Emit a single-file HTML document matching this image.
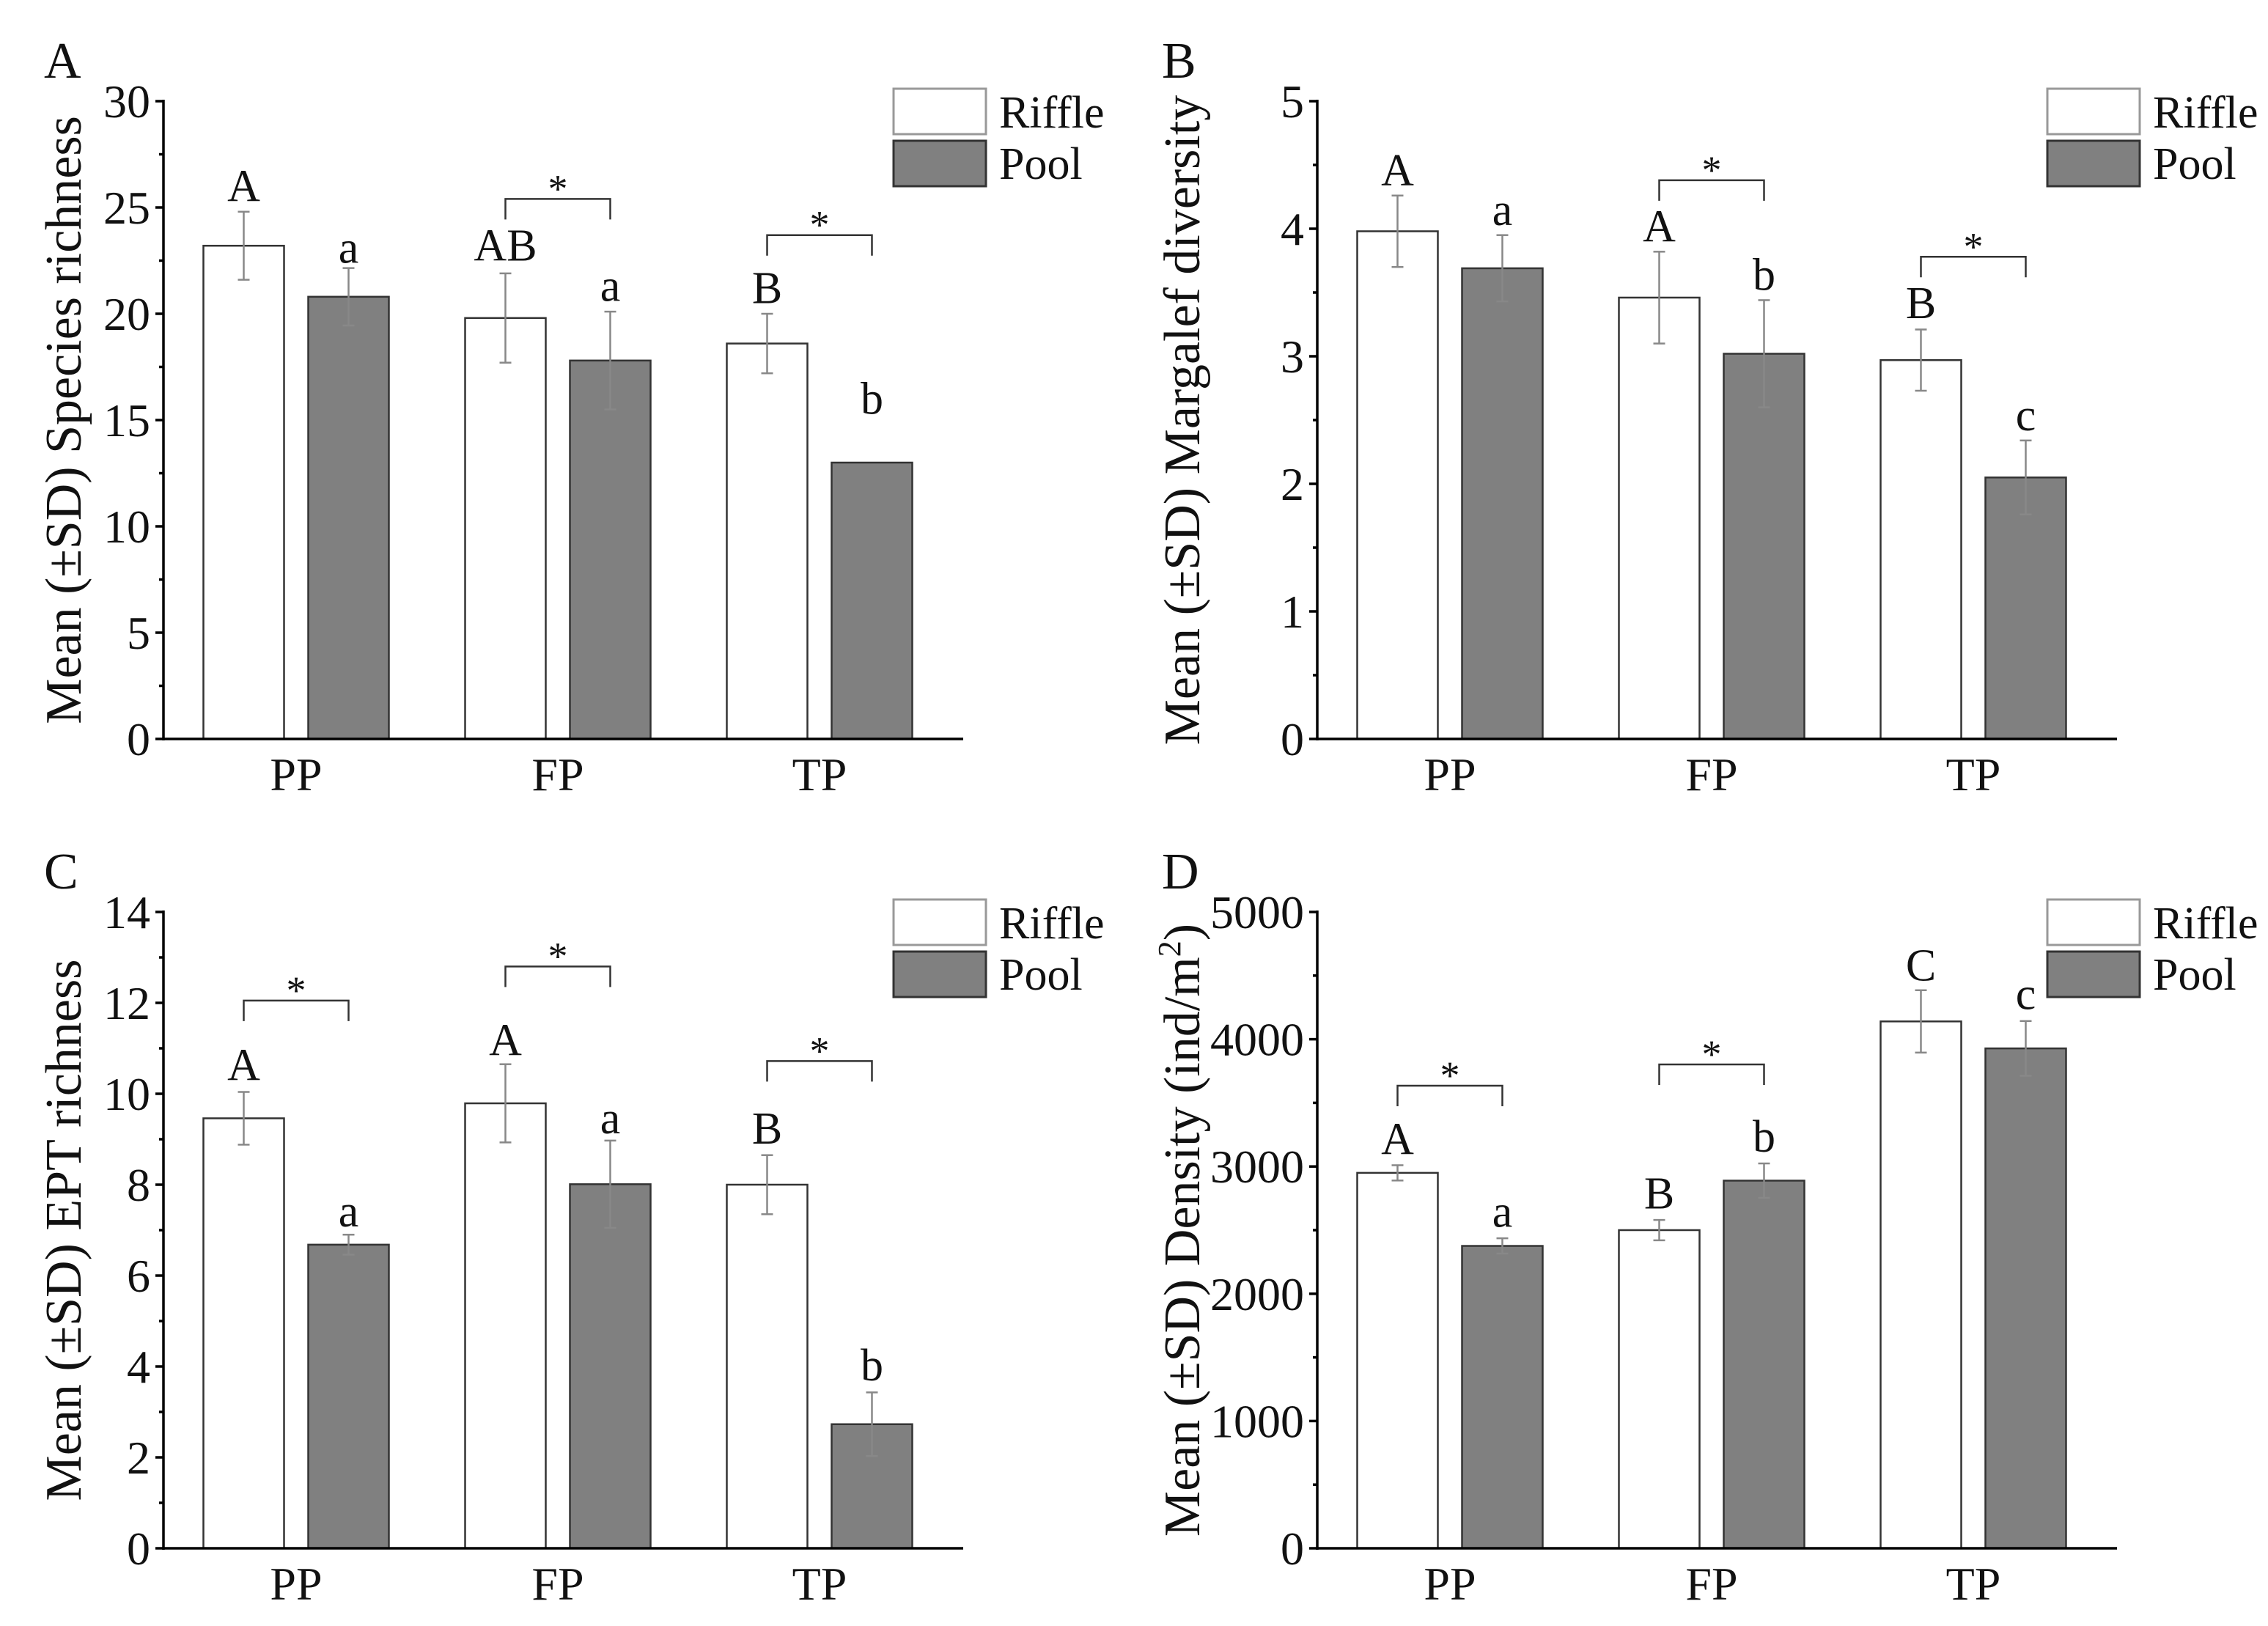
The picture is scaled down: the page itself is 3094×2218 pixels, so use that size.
<!DOCTYPE html>
<html><head><meta charset="utf-8">
<style>
html,body{margin:0;padding:0;background:#fff;}
svg{display:block;}
text{font-family:"Liberation Serif",serif;fill:#111;}
</style></head>
<body>
<svg id="fig" xmlns="http://www.w3.org/2000/svg" width="3094" height="2218" viewBox="0 0 3094 2218"></svg>
<script>
// ---- Data ----
const groups = ["PP", "FP", "TP"];
const seriesNames = ["Riffle", "Pool"];

const aRiffle = [23.2, 19.8, 18.6];
const aRiffleSD = [1.6, 2.1, 1.4];
const aPool = [20.8, 17.8, 13.0];
const aPoolSD = [1.35, 2.3, 0];
const aRiffleLetters = ["A", "AB", "B"];
const aPoolLetters = ["a", "a", "b"];
const aRiffleLetterVal = [25.3, 22.5, 20.5];
const aPoolLetterVal = [22.4, 20.6, 15.3];
const aBrackets = [null, 25.4, 23.7];
const aTicks = [0, 5, 10, 15, 20, 25, 30];

const bRiffle = [3.98, 3.46, 2.97];
const bRiffleSD = [0.28, 0.36, 0.24];
const bPool = [3.69, 3.02, 2.05];
const bPoolSD = [0.26, 0.42, 0.29];
const bRiffleLetters = ["A", "A", "B"];
const bPoolLetters = ["a", "b", "c"];
const bRiffleLetterVal = [4.34, 3.90, 3.30];
const bPoolLetterVal = [4.03, 3.52, 2.42];
const bBrackets = [null, 4.38, 3.78];
const bTicks = [0, 1, 2, 3, 4, 5];

const cRiffle = [9.46, 9.79, 8.0];
const cRiffleSD = [0.58, 0.86, 0.65];
const cPool = [6.68, 8.01, 2.73];
const cPoolSD = [0.22, 0.96, 0.7];
const cRiffleLetters = ["A", "A", "B"];
const cPoolLetters = ["a", "a", "b"];
const cRiffleLetterVal = [10.3, 10.85, 8.9];
const cPoolLetterVal = [7.08, 9.13, 3.69];
const cBrackets = [12.05, 12.8, 10.72];
const cTicks = [0, 2, 4, 6, 8, 10, 12, 14];

const dRiffle = [2950, 2500, 4140];
const dRiffleSD = [60, 80, 245];
const dPool = [2376, 2889, 3928];
const dPoolSD = [60, 135, 215];
const dRiffleLetters = ["A", "B", "C"];
const dPoolLetters = ["a", "b", "c"];
const dRiffleLetterVal = [3097, 2669, 4462];
const dPoolLetterVal = [2526, 3117, 4238];
const dBrackets = [3635, 3802, null];
const dTicks = [0, 1000, 2000, 3000, 4000, 5000];

// ---- Rendering ----
const NS = "http://www.w3.org/2000/svg";
const svg = document.getElementById("fig");
function mk(tag, attrs, parent) {
  const e = document.createElementNS(NS, tag);
  for (const k in attrs) e.setAttribute(k, attrs[k]);
  (parent || svg).appendChild(e);
  return e;
}
function txt(str, x, y, size, anchor, parent) {
  const t = mk("text", {x: x, y: y, "font-size": size, "text-anchor": anchor || "middle"}, parent);
  t.textContent = str;
  return t;
}

function panel(p) {
  const g = mk("g", {});
  
  
  const ax = p.axX, top = p.top, zero = p.zero, W = 1091;
  const yMax = p.ticks[p.ticks.length - 1];
  const Y = v => zero - (v / yMax) * (zero - top);
  const groupX = i => ax + 181 + i * 357;

  const pl = txt(p.letter, p.letterX, top - 32, 70, "start", g);
  
  

  const cy = (top + zero) / 2;
  const yt = mk("text", {x: 0, y: 0, "font-size": 70, "text-anchor": "middle",
    transform: "translate(" + p.titleX + "," + cy + ") rotate(-90)"}, g);
  
  
  if (p.sup) {
    yt.appendChild(document.createTextNode(p.title));
    const s = mk("tspan", {"font-size": 44, dy: -26}, yt);
    s.textContent = p.sup;
    const s2 = mk("tspan", {dy: 26}, yt);
    s2.textContent = ")";
  } else {
    yt.textContent = p.title;
  }

  [[p.riffle, p.riffleSD, -126.5, "#fff", "#333", p.riffleLetters, p.riffleLetterVal],
   [p.pool, p.poolSD, 16.5, "#808080", "#333", p.poolLetters, p.poolLetterVal]].forEach((s, si) => {
    s[0].forEach((v, i) => {
      const x = groupX(i) + s[2];
      const r = mk("rect", {x: x, y: Y(v), width: 110, height: zero - Y(v), fill: s[3], stroke: s[4], "stroke-width": 2.5}, g);
      
      
      const cx = x + 55, sd = s[1][i];
      if (sd > 0) {
        const eg = mk("g", {stroke: "#888", "stroke-width": 2.5}, g);
        
        
        mk("line", {x1: cx, x2: cx, y1: Y(v + sd), y2: Y(v - sd)}, eg);
        mk("line", {x1: cx - 8, x2: cx + 8, y1: Y(v + sd), y2: Y(v + sd)}, eg);
        mk("line", {x1: cx - 8, x2: cx + 8, y1: Y(v - sd), y2: Y(v - sd)}, eg);
      }
      const lt = txt(s[5][i], cx, Y(s[6][i]), 62, "middle", g);
      
      
    });
  });

  p.brackets.forEach((b, i) => {
    if (b === null) return;
    const x1 = groupX(i) - 71.5, x2 = groupX(i) + 71.5, yb = Y(b);
    const bg = mk("g", {}, g);
    
    
    mk("polyline", {points: x1 + "," + (yb + 28) + " " + x1 + "," + yb + " " + x2 + "," + yb + " " + x2 + "," + (yb + 28),
      fill: "none", stroke: "#333", "stroke-width": 2.5}, bg);
    txt("*", (x1 + x2) / 2, yb + 4, 54, "middle", bg);
  });

  const axes = mk("g", {stroke: "#000", "stroke-width": 3.5}, g);
  
  
  mk("line", {x1: ax, x2: ax, y1: top - 2, y2: zero + 2}, axes);
  mk("line", {x1: ax - 2, x2: ax + W, y1: zero, y2: zero}, axes);
  const step = p.ticks[1] - p.ticks[0];
  p.ticks.forEach((t, i) => {
    mk("line", {x1: ax - 11, x2: ax, y1: Y(t), y2: Y(t)}, axes);
    if (i < p.ticks.length - 1) mk("line", {x1: ax - 6, x2: ax, y1: Y(t + step / 2), y2: Y(t + step / 2)}, axes);
    const tl = txt(String(t), ax - 18, Y(t) + 22, 64, "end", g);
    
    
  });
  groups.forEach((c, i) => {
    const xl = txt(c, groupX(i), zero + 70, 64, "middle", g);
    
    
  });

  const lg = mk("g", {}, g);
  
  
  const lx = ax + 996;
  const e1 = mk("rect", {x: lx, y: top - 17, width: 126, height: 62, fill: "#fff", stroke: "#999", "stroke-width": 3}, lg);
  
  
  txt(seriesNames[0], lx + 144, top + 36, 62, "start", lg);
  const e2 = mk("rect", {x: lx, y: top + 54, width: 126, height: 62, fill: "#808080", stroke: "#333", "stroke-width": 3}, lg);
  
  
  txt(seriesNames[1], lx + 144, top + 106, 62, "start", lg);
}

panel({letter: "A", letterX: 60, axX: 223, top: 138, zero: 1008, titleX: 110,
  title: "Mean (±SD) Species richness", ticks: aTicks,
  riffle: aRiffle, riffleSD: aRiffleSD, pool: aPool, poolSD: aPoolSD,
  riffleLetters: aRiffleLetters, poolLetters: aPoolLetters,
  riffleLetterVal: aRiffleLetterVal, poolLetterVal: aPoolLetterVal, brackets: aBrackets});
panel({letter: "B", letterX: 1585, axX: 1797, top: 138, zero: 1008, titleX: 1636,
  title: "Mean (±SD) Margalef diversity", ticks: bTicks,
  riffle: bRiffle, riffleSD: bRiffleSD, pool: bPool, poolSD: bPoolSD,
  riffleLetters: bRiffleLetters, poolLetters: bPoolLetters,
  riffleLetterVal: bRiffleLetterVal, poolLetterVal: bPoolLetterVal, brackets: bBrackets});
panel({letter: "C", letterX: 60, axX: 223, top: 1244, zero: 2112, titleX: 110,
  title: "Mean (±SD) EPT richness", ticks: cTicks,
  riffle: cRiffle, riffleSD: cRiffleSD, pool: cPool, poolSD: cPoolSD,
  riffleLetters: cRiffleLetters, poolLetters: cPoolLetters,
  riffleLetterVal: cRiffleLetterVal, poolLetterVal: cPoolLetterVal, brackets: cBrackets});
panel({letter: "D", letterX: 1585, axX: 1797, top: 1244, zero: 2112, titleX: 1636,
  title: "Mean (±SD) Density (ind/m", sup: "2", ticks: dTicks,
  riffle: dRiffle, riffleSD: dRiffleSD, pool: dPool, poolSD: dPoolSD,
  riffleLetters: dRiffleLetters, poolLetters: dPoolLetters,
  riffleLetterVal: dRiffleLetterVal, poolLetterVal: dPoolLetterVal, brackets: dBrackets});
</script>
</body></html>
